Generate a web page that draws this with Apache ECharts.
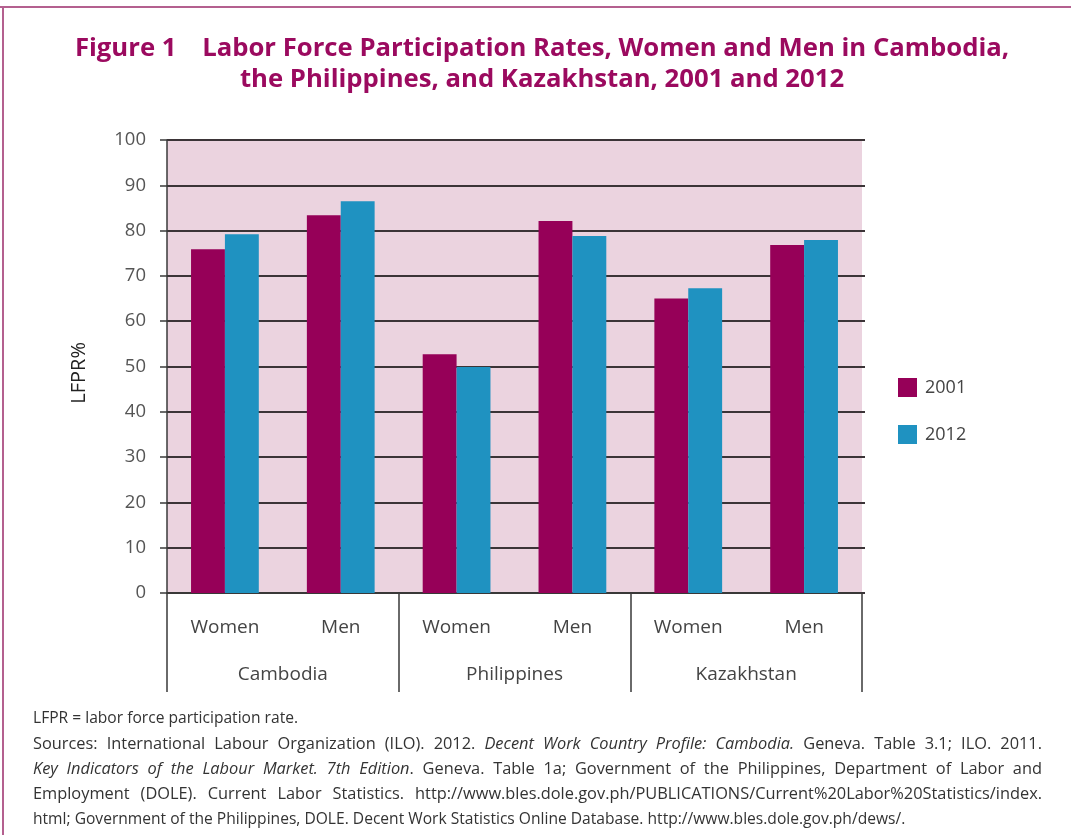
<!DOCTYPE html>
<html>
<head>
<meta charset="utf-8">
<script src="https://cdn.jsdelivr.net/npm/echarts@6/dist/echarts.min.js"></script>
<style>
html,body{margin:0;padding:0;background:#fff;}
#c{width:1071px;height:835px;}
</style>
</head>
<body>
<div id="c"></div>
<script>
const groupLabels = ["Women", "Men", "Women", "Men", "Women", "Men"];
const countries = ["Cambodia", "Philippines", "Kazakhstan"];
const seriesNames = ["2001", "2012"];
const values2001 = [75.9, 83.4, 52.7, 82.1, 65.0, 76.8];
const values2012 = [79.2, 86.5, 49.9, 78.8, 67.3, 77.9];
const yTicks = { min: 0, max: 100, interval: 10 };

const FONT = '"Open Sans", "Noto Sans", sans-serif';
const FOOT_SIZE = 15.6;
const chart = echarts.init(document.getElementById('c'), null, { renderer: 'canvas' });

// footnote lines: segments [text, italic], and whether justified
const footLines = [
  { j: false, s: [['LFPR = labor force participation rate.', false]] },
  { j: true, s: [['Sources: International Labour Organization (ILO). 2012. ', false], ['Decent Work Country Profile: Cambodia.', true], [' Geneva. Table 3.1; ILO. 2011.', false]] },
  { j: true, s: [['Key Indicators of the Labour Market. 7th Edition', true], ['. Geneva. Table 1a; Government of the Philippines, Department of Labor and', false]] },
  { j: true, s: [['Employment (DOLE). Current Labor Statistics. http://www.bles.dole.gov.ph/PUBLICATIONS/Current%20Labor%20Statistics/index.', false]] },
  { j: false, s: [['html; Government of the Philippines, DOLE. Decent Work Statistics Online Database. http://www.bles.dole.gov.ph/dews/.', false]] }
];
const footTops = [711, 737, 762, 787, 812];
const FOOT_LEFT = 33, FOOT_RIGHT = 1042;

const mctx = document.createElement('canvas').getContext('2d');
function measure(txt, italic, size) {
  mctx.font = (italic ? 'italic ' : '') + size + 'px ' + FONT;
  return mctx.measureText(txt).width;
}

const graphics = [
  { type: 'line', shape: { x1: 0, y1: 7, x2: 1071, y2: 7 }, style: { stroke: '#b4608f', lineWidth: 2 } },
  { type: 'line', shape: { x1: 3, y1: 7, x2: 3, y2: 835 }, style: { stroke: '#b4608f', lineWidth: 2 } },
  { type: 'text', left: 69, top: 342, rotation: Math.PI / 2,
    style: { text: 'LFPR%', font: '20px ' + FONT, fill: '#222', textAlign: 'center', textVerticalAlign: 'middle' } }
];

footLines.forEach((line, li) => {
  const words = [];
  let cur = [];
  line.s.forEach(([txt, it]) => {
    const parts = txt.split(' ');
    parts.forEach((p, pi) => {
      if (pi > 0) { if (cur.length) words.push(cur); cur = []; }
      if (p.length) cur.push([p, it]);
    });
  });
  if (cur.length) words.push(cur);
  const wordW = (size) => words.map(w => w.reduce((a, [t, it]) => a + measure(t, it, size), 0));
  let size = FOOT_SIZE;
  let widths = wordW(size);
  let gap = measure(' ', false, size);
  if (line.j) {
    const target = FOOT_RIGHT - FOOT_LEFT;
    const natural = widths.reduce((a, b) => a + b, 0) + gap * (words.length - 1);
    const ratio = Math.min(1.05, Math.max(1, (target - 2 * (words.length - 1)) / natural));
    size = FOOT_SIZE * ratio;
    widths = wordW(size);
    const total = widths.reduce((a, b) => a + b, 0);
    gap = (target - total) / (words.length - 1);
  }
  let x = FOOT_LEFT;
  words.forEach((w, wi) => {
    const txt = w.map(([t, it]) => '{' + (it ? 'i' : 'n') + '|' + t + '}').join('');
    graphics.push({
      type: 'text', left: x, top: footTops[li] - (size - FOOT_SIZE) / 2,
      style: {
        text: txt, fill: '#333',
        rich: {
          n: { fontFamily: FONT, fontSize: size, fill: '#333' },
          i: { fontFamily: FONT, fontSize: size, fontStyle: 'italic', fill: '#333' }
        }
      }
    });
    x += widths[wi] + gap;
  });
});

const option = {
  backgroundColor: '#ffffff',
  animation: false,
  textStyle: { fontFamily: FONT },
  title: {
    text: 'Figure 1\u2003Labor Force Participation Rates, Women and Men in Cambodia,\nthe Philippines, and Kazakhstan, 2001 and 2012',
    left: 537, top: 28, textAlign: 'center',
    textStyle: { color: '#9b0a5f', fontSize: 25.7, fontWeight: 'bold', fontFamily: FONT, lineHeight: 31 }
  },
  legend: {
    orient: 'vertical', left: 893, top: 373, itemWidth: 19, itemHeight: 19, itemGap: 28,
    icon: 'rect',
    data: seriesNames,
    textStyle: { fontSize: 18, color: '#444', fontFamily: FONT, padding: [0, 0, 0, 3] }
  },
  grid: {
    left: 167, right: 209, top: 140, height: 453,
    show: true, backgroundColor: '#ebd3df', borderWidth: 0, containLabel: false
  },
  xAxis: [
    {
      type: 'category', data: groupLabels, position: 'bottom',
      axisLine: { show: true, lineStyle: { color: '#3a3a3a', width: 1.5 } },
      axisTick: { show: false },
      axisLabel: { margin: 25, fontSize: 19, color: '#444', fontFamily: FONT },
      splitLine: { show: false }
    },
    {
      type: 'category', data: countries, position: 'bottom',
      axisLine: { show: false },
      axisTick: { show: true, length: 99, lineStyle: { color: '#3a3a3a', width: 1.5 } },
      axisLabel: { margin: 72, fontSize: 19, color: '#444', fontFamily: FONT },
      splitLine: { show: false }
    }
  ],
  yAxis: [
    {
      type: 'value', min: yTicks.min, max: yTicks.max, interval: yTicks.interval,
      axisLine: { show: true, lineStyle: { color: '#3a3a3a', width: 1.5 } },
      axisTick: { show: true, length: 7, lineStyle: { color: '#3a3a3a', width: 1.5 } },
      axisLabel: { margin: 21, fontSize: 18.5, color: '#555', fontFamily: FONT },
      splitLine: { show: true, lineStyle: { color: '#3b3437', width: 2 } }
    },
    {
      type: 'value', min: yTicks.min, max: yTicks.max, interval: yTicks.interval, position: 'right',
      axisLine: { show: false },
      axisTick: { show: true, length: 3, lineStyle: { color: '#3b3437', width: 2 } },
      axisLabel: { show: false },
      splitLine: { show: false }
    }
  ],
  series: [
    {
      name: seriesNames[0], type: 'bar', data: values2001, xAxisIndex: 0, yAxisIndex: 0,
      barGap: '0%', barCategoryGap: '41.5%', itemStyle: { color: '#960058' }
    },
    {
      name: seriesNames[1], type: 'bar', data: values2012, xAxisIndex: 0, yAxisIndex: 0,
      barGap: '0%', barCategoryGap: '41.5%', itemStyle: { color: '#1f92c1' }
    }
  ],
  graphic: graphics
};
chart.setOption(option);
</script>
</body>
</html>
